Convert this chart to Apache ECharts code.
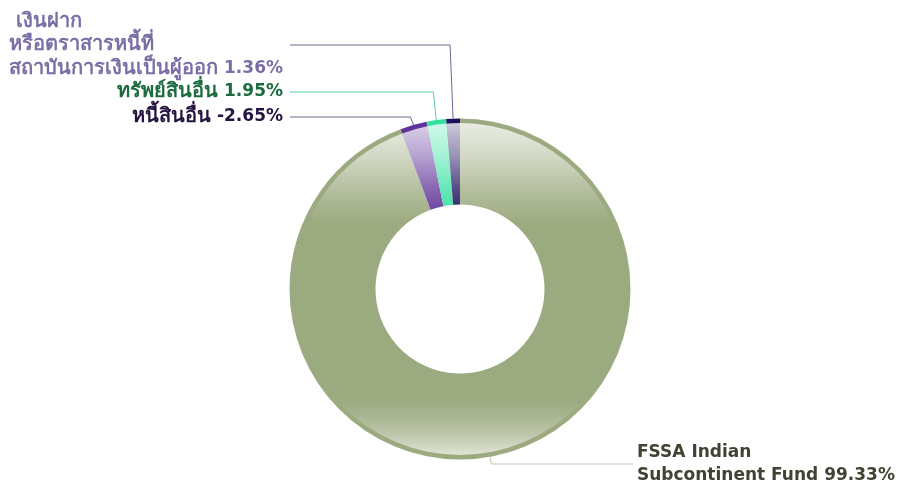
<!DOCTYPE html>
<html>
<head>
<meta charset="utf-8">
<script src="https://cdn.jsdelivr.net/npm/echarts@6/dist/echarts.min.js"></script>
<style>
  html, body { margin: 0; padding: 0; background: #fff; }
  #main { width: 898px; height: 483px; }
</style>
</head>
<body>
<div id="main"></div>
<script>
// data, clockwise from 12 o'clock
var names = [
  'FSSA Indian\nSubcontinent Fund',
  'หนี้สินอื่น',
  'ทรัพย์สินอื่น',
  ' เงินฝาก\nหรือตราสารหนี้ที่\nสถาบันการเงินเป็นผู้ออก'
];
var percents = [99.33, -2.65, 1.95, 1.36];

var colors = ['#9caa80', '#5f3398', '#34e0a0', '#1e0e5e'];
var textColors = ['#3f4432', '#24143f', '#1b6b3f', '#7b6ea6'];
var lineColors = ['#c4c8b6', '#6f6690', '#5fd0a0', '#6f6690'];

// label anchors: [edge x, middle y, line end x, side]
var labelPos = [
  [637, 464, 633, 'right'],
  [283, 117, 290, 'left'],
  [283, 92, 290, 'left'],
  [283, 45, 290, 'left']
];

var cx = 460, cy = 289, rOut = 170.5, rIn = 84.5;
var fontFamily = 'DejaVu Sans, Noto Sans, sans-serif';

function richFor(color) {
  return {
    th: { color: color, fontFamily: fontFamily, fontWeight: 'bold', fontSize: 20, lineHeight: 23.5 },
    n: { color: color, fontFamily: fontFamily, fontWeight: 'bold', fontSize: 17, lineHeight: 23.5 }
  };
}

var chartDom = document.getElementById('main');
var myChart = echarts.init(chartDom);

var mainData = names.map(function (n, i) {
  return {
    name: n,
    value: Math.abs(percents[i]),
    itemStyle: { color: colors[i] },
    label: { color: textColors[i], rich: richFor(textColors[i]) },
    labelLine: { lineStyle: { color: lineColors[i] } }
  };
});

var glossData = names.map(function (n, i) {
  return { name: n, value: Math.abs(percents[i]) };
});

var option = {
  animation: false,
  series: [
    {
      type: 'pie',
      center: [cx, cy],
      radius: [rIn, rOut],
      startAngle: 90,
      avoidLabelOverlap: false,
      data: mainData,
      itemStyle: { borderWidth: 0 },
      label: {
        show: true,
        fontFamily: fontFamily,
        fontWeight: 'bold',
        fontSize: 17,
        lineHeight: 23.5,
        formatter: function (p) {
          var lines = p.name.split('\n');
          var pct = percents[p.dataIndex].toFixed(2) + '%';
          return lines.map(function (s, k) {
            var tag = /[\u0E00-\u0E7F]/.test(s) ? 'th' : 'n';
            var out = '{' + tag + '|' + s + '}';
            if (k === lines.length - 1) out += '{n| ' + pct + '}';
            return out;
          }).join('\n');
        }
      },
      labelLine: { show: true, length: 10, length2: 10, lineStyle: { width: 1 } },
      labelLayout: function (params) {
        var lp = labelPos[params.dataIndex];
        var p0 = params.labelLinePoints[0];
        var w = params.labelRect.width;
        var x, p1;
        if (lp[3] === 'left') {
          x = lp[0] - w;
          p1 = [p0[0] - 3, lp[1]];
        } else {
          x = lp[0];
          p1 = [p0[0] + 1, lp[1]];
        }
        return {
          x: x,
          y: lp[1],
          align: 'left',
          verticalAlign: 'middle',
          labelLinePoints: [p0, p1, [lp[2], lp[1]]]
        };
      },
      emphasis: { disabled: true }
    },
    {
      type: 'pie',
      center: [cx, cy],
      radius: [rIn, rOut - 4.5],
      startAngle: 90,
      silent: true,
      z: 3,
      data: glossData,
      label: { show: false },
      labelLine: { show: false },
      itemStyle: {
        color: {
          type: 'linear',
          global: true,
          x: 0, y: cy - rOut + 4, x2: 0, y2: cy + rOut - 4,
          colorStops: [
            { offset: 0, color: 'rgba(255,255,255,0.78)' },
            { offset: 0.1, color: 'rgba(255,255,255,0.55)' },
            { offset: 0.2, color: 'rgba(255,255,255,0.25)' },
            { offset: 0.3, color: 'rgba(255,255,255,0.0)' },
            { offset: 0.84, color: 'rgba(255,255,255,0.0)' },
            { offset: 0.93, color: 'rgba(255,255,255,0.3)' },
            { offset: 1, color: 'rgba(255,255,255,0.68)' }
          ]
        }
      },
      emphasis: { disabled: true }
    }
  ]
};

myChart.setOption(option);
</script>
</body>
</html>
